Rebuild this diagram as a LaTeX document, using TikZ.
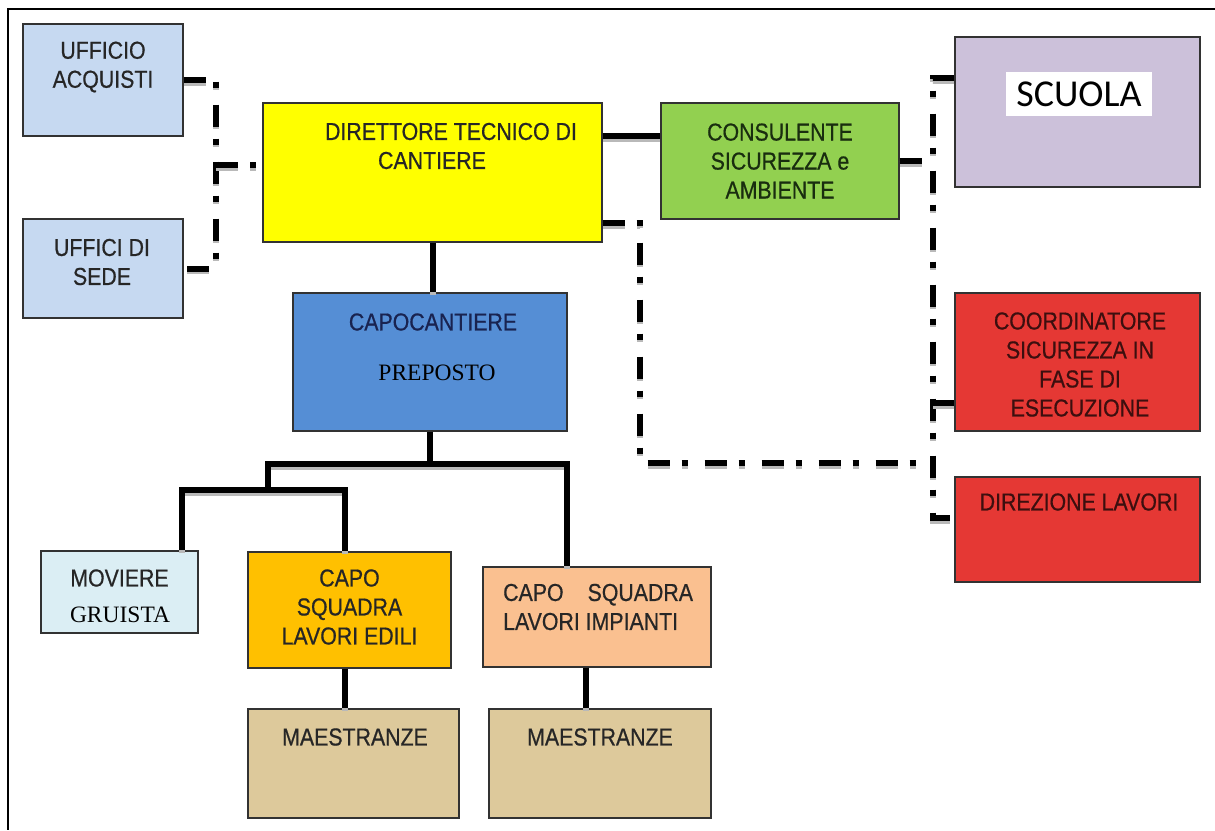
\documentclass[tikz,border=0pt]{standalone}
\usepackage{fontspec}
\setmainfont{Liberation Sans}[FakeStretch=0.87,FakeBold=0.6]
\newfontfamily\timesfont{Liberation Serif}
\newfontfamily\calibrifont{Carlito}
\usetikzlibrary{calc}

% box fills
\definecolor{cAcq}{RGB}{198,217,241}
\definecolor{cDtc}{RGB}{255,255,0}
\definecolor{cCap}{RGB}{85,142,213}
\definecolor{cCons}{RGB}{146,208,80}
\definecolor{cScu}{RGB}{204,193,218}
\definecolor{cRed}{RGB}{229,56,52}
\definecolor{cMov}{RGB}{219,238,244}
\definecolor{cEdi}{RGB}{255,192,0}
\definecolor{cImp}{RGB}{250,192,144}
\definecolor{cMae}{RGB}{221,201,155}
% text and outline colours
\definecolor{ink}{RGB}{38,38,38}
\definecolor{inkBlue}{RGB}{25,35,80}
\definecolor{inkGreen}{RGB}{25,45,15}
\definecolor{inkRed}{RGB}{60,15,15}
\definecolor{edge}{RGB}{50,50,50}

\begin{document}
\begin{tikzpicture}[x=1pt,y=-1pt,
  box/.style={draw=edge, line width=1.3pt, inner sep=0pt},
  txt/.style={font=\fontsize{24.5}{29}\selectfont, text=ink, align=center, inner sep=0pt},
  rm/.style={font=\timesfont\fontsize{23.5}{28}\selectfont, text=black, inner sep=0pt},
  tie/.style={line width=6pt, black,
    preaction={draw=gray!55, line width=6pt, transform canvas={yshift=-2.5pt}}},
  dd/.style={line width=6pt, black, dash pattern=on 22pt off 12pt on 6pt off 17pt,
    preaction={draw=gray!55, line width=6pt, dash pattern=on 22pt off 12pt on 6pt off 17pt,
      transform canvas={yshift=-2.5pt}}},
]
\useasboundingbox (0,0) rectangle (1215,830);

% page frame (top and left rules)
\draw[line width=2pt, black] (1215,9) -- (8,9) -- (8,830);

% ---- boxes ----
\node[box, fill=cAcq, minimum width=160pt, minimum height=112pt] (acq) at (103,80) {};
\node[box, fill=cAcq, minimum width=160pt, minimum height=99pt] (sede) at (103,268.5) {};
\node[box, fill=cDtc, minimum width=339pt, minimum height=139pt] (dtc) at (432.5,172.5) {};
\node[box, fill=cCap, minimum width=274pt, minimum height=138pt] (cap) at (430,362) {};
\node[box, fill=cCons, minimum width=238pt, minimum height=116pt] (cons) at (780,161) {};
\node[box, fill=cScu, minimum width=245pt, minimum height=150pt] (scu) at (1077.5,112) {};
\node[box, fill=cRed, minimum width=245pt, minimum height=138pt] (coo) at (1077.5,362) {};
\node[box, fill=cRed, minimum width=245pt, minimum height=105pt] (dir) at (1077.5,529.5) {};
\node[box, fill=cMov, minimum width=157pt, minimum height=82pt] (mov) at (119.5,592) {};
\node[box, fill=cEdi, minimum width=203pt, minimum height=116pt] (edi) at (349.5,610) {};
\node[box, fill=cImp, minimum width=228pt, minimum height=100pt] (imp) at (597,617) {};
\node[box, fill=cMae, minimum width=211pt, minimum height=109pt] (m1) at (353.5,763.5) {};
\node[box, fill=cMae, minimum width=222pt, minimum height=109pt] (m2) at (600,763.5) {};

% ---- labels ----
\node[txt] (acqT) at (103,67) {UFFICIO\\ACQUISTI};
\node[txt] (sedeT) at (102,262) {UFFICI DI\\SEDE};
\node[txt] (dtcT) at (451,146) {DIRETTORE TECNICO DI\\\hspace*{-38pt}CANTIERE};
\node[txt, text=inkBlue] (capT) at (433,322) {CAPOCANTIERE};
\node[rm] (capP) at (437,373) {PREPOSTO};
\node[txt, text=inkGreen] (consT) at (780,161) {CONSULENTE\\SICUREZZA e\\AMBIENTE};
\node[fill=white, minimum width=146pt, minimum height=44pt, inner sep=0pt,
      font=\calibrifont\fontsize{38}{42}\selectfont] (scuT) at (1079,94) {SCUOLA};
\node[txt, text=inkRed] (cooT) at (1080,364.5) {COORDINATORE\\SICUREZZA IN\\FASE DI\\ESECUZIONE};
\node[txt, text=inkRed] (dirT) at (1079,502) {DIREZIONE LAVORI};
\node[txt] (movT) at (119.5,578) {MOVIERE};
\node[rm] (movG) at (120,615) {GRUISTA};
\node[txt] (ediT) at (349.5,607) {CAPO\\SQUADRA\\LAVORI EDILI};
\node[txt, align=left, anchor=west] (impT) at (503,607) {CAPO\hspace{24pt}SQUADRA\\LAVORI IMPIANTI};
\node[txt] (m1T) at (355,737) {MAESTRANZE};
\node[txt] (m2T) at (600,737) {MAESTRANZE};

% ---- solid reporting lines ----
\draw[tie] (dtc.south) -- (dtc.south |- cap.north);
\coordinate (dtcE) at ([yshift=36.5pt]dtc.east);
\draw[tie] (dtcE) -- (dtcE -| cons.west);

\coordinate (hub) at (430,464);
\coordinate (barL) at (268,464);
\coordinate (barR) at (567,464);
\coordinate (subM) at (268,490);
\coordinate (subL) at (182,490);
\coordinate (subR) at (345,490);
\draw[tie] (cap.south) -- (hub);
\draw[tie] (subM) -- (barL) -- (barR) -- (barR |- imp.north);
\draw[tie] (subL |- mov.north) -- (subL) -- (subR) -- (subR |- edi.north);
\coordinate (ediS) at ([xshift=-5pt]edi.south);
\draw[tie] (ediS) -- (ediS |- m1.north);
\coordinate (impS) at ([xshift=-11pt]imp.south);
\draw[tie] (impS) -- (impS |- m2.north);

% ---- dash-dot links ----
\coordinate (lbus) at (216,80);
\draw[dd] (acq.east) -- (lbus) -- (lbus |- sede.east) -- (sede.east);
\coordinate (dtcL) at ([yshift=7.5pt]dtc.west);
\draw[dd] (dtcL -| lbus) -- (dtcL);

\coordinate (dtcR) at ([yshift=-50.5pt]dtc.east);
\coordinate (rdrop) at (640,463);
\coordinate (rtop) at (933,78);
\draw[dd] (dtcR) -| (rdrop) -- (rdrop -| rtop);
\coordinate (scuW) at ([yshift=34pt]scu.west);
\coordinate (cooW) at ([yshift=-41pt]coo.west);
\coordinate (dirW) at ([yshift=11.5pt]dir.west);
\draw[dd] (scuW) -- (scuW -| rtop) -- (dirW -| rtop) -- (dirW);
\draw[dd] (cooW) -- (cooW -| rtop);
\draw[dd] (cons.east) -- (cons.east -| rtop);
\end{tikzpicture}
\end{document}
